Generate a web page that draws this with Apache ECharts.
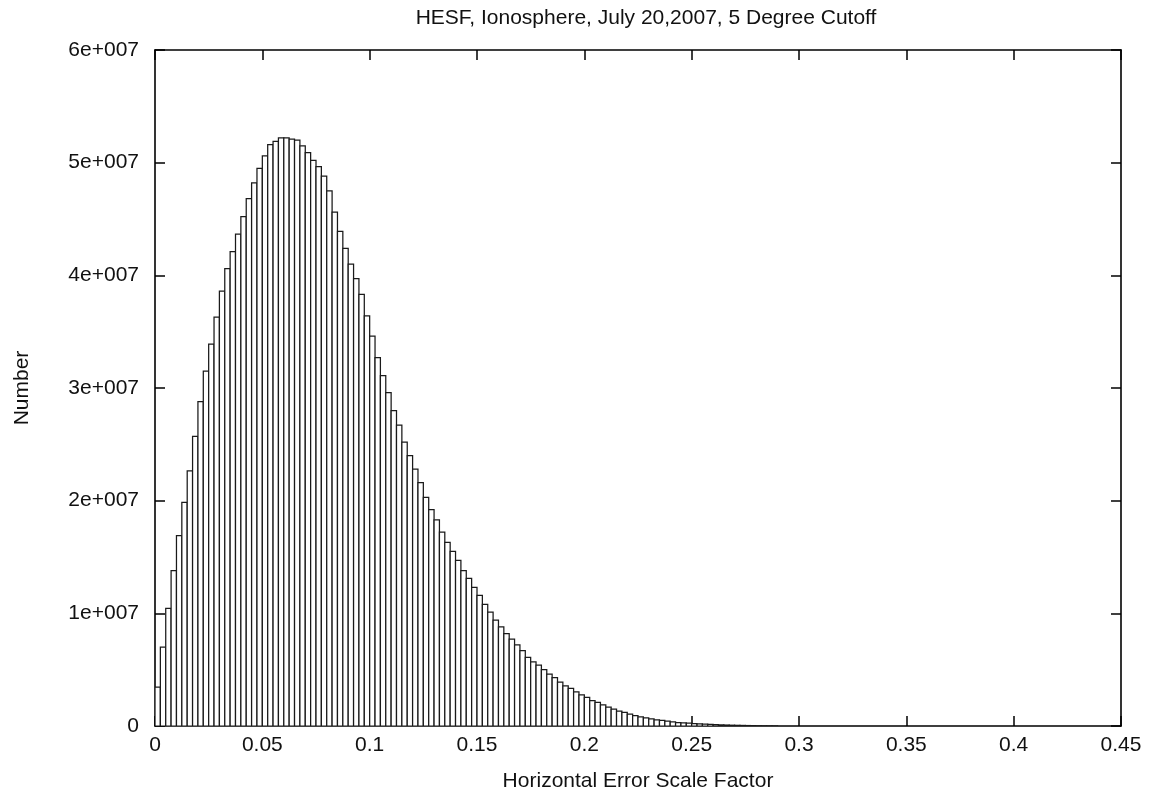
<!DOCTYPE html>
<html>
<head>
<meta charset="utf-8">
<script src="https://cdn.jsdelivr.net/npm/echarts@6/dist/echarts.min.js"></script>
<style>
html,body{margin:0;padding:0;background:#fff;}
#chart{width:1154px;height:798px;}
</style>
</head>
<body>
<div id="chart"></div>
<script>
// ---- data ----
var titleText = 'HESF, Ionosphere, July 20,2007, 5 Degree Cutoff';
var xName = 'Horizontal Error Scale Factor';
var yName = 'Number';
var binStart = 0;
var binWidth = 0.0025;
var xTicks = [0, 0.05, 0.1, 0.15, 0.2, 0.25, 0.3, 0.35, 0.4, 0.45];
var yTicks = [0, 1e7, 2e7, 3e7, 4e7, 5e7, 6e7];
var yTickLabels = ['0', '1e+007', '2e+007', '3e+007', '4e+007', '5e+007', '6e+007'];
var counts = [
  3.45e6, 7.0e6, 10.45e6, 13.8e6, 16.9e6, 19.85e6, 22.65e6, 25.7e6, 28.8e6, 31.5e6,
  33.9e6, 36.3e6, 38.6e6, 40.6e6, 42.1e6, 43.65e6, 45.2e6, 46.8e6, 48.2e6, 49.5e6,
  50.6e6, 51.6e6, 51.9e6, 52.2e6, 52.2e6, 52.1e6, 52.0e6, 51.5e6, 50.9e6, 50.2e6,
  49.65e6, 48.8e6, 47.5e6, 45.6e6, 43.9e6, 42.4e6, 41.0e6, 39.7e6, 38.3e6, 36.4e6,
  34.6e6, 32.7e6, 31.1e6, 29.6e6, 28.0e6, 26.7e6, 25.2e6, 24.0e6, 22.8e6, 21.6e6,
  20.3e6, 19.2e6, 18.3e6, 17.2e6, 16.3e6, 15.5e6, 14.7e6, 13.8e6, 13.1e6, 12.3e6,
  11.6e6, 10.8e6, 10.1e6, 9.4e6, 8.8e6, 8.2e6, 7.7e6, 7.2e6, 6.7e6, 6.1e6,
  5.7e6, 5.4e6, 5.0e6, 4.6e6, 4.3e6, 3.9e6, 3.56e6, 3.33e6, 3.03e6, 2.76e6,
  2.53e6, 2.26e6, 2.09e6, 1.87e6, 1.67e6, 1.49e6, 1.31e6, 1.2e6, 1.05e6, 0.93e6,
  0.81e6, 0.72e6, 0.63e6, 0.54e6, 0.49e6, 0.43e6, 0.36e6, 0.31e6, 0.28e6, 0.25e6,
  0.22e6, 0.19e6, 0.16e6, 0.14e6, 0.12e6, 0.10e6, 0.085e6, 0.07e6, 0.06e6, 0.05e6,
  0.04e6, 0.033e6, 0.027e6, 0.022e6, 0.018e6, 0.014e6
];

// ---- build histogram rows ----
var rows = counts.map(function (c, i) {
  var x0 = binStart + i * binWidth;
  return [x0, x0 + binWidth, c];
});

var FONT = '"Liberation Sans", Arial, Helvetica, sans-serif';
var TXT = '#111';
var FS = 21;

function yFmt(v) {
  var idx = yTicks.indexOf(v);
  return idx >= 0 ? yTickLabels[idx] : '';
}

var chart = echarts.init(document.getElementById('chart'), null, {renderer: 'canvas'});
var axisCommon = {
  min: xTicks[0], max: xTicks[xTicks.length - 1], interval: xTicks[1] - xTicks[0]
};
var option = {
  animation: false,
  backgroundColor: '#fff',
  title: {
    text: titleText, left: 641, top: 3, textAlign: 'center',
    textStyle: {fontFamily: FONT, fontSize: FS, fontWeight: 'normal', color: TXT}
  },
  grid: {left: 155, right: 33, top: 50, bottom: 72, containLabel: false},
  xAxis: [{
    type: 'value', position: 'bottom',
    min: axisCommon.min, max: axisCommon.max, interval: axisCommon.interval,
    name: xName, nameLocation: 'middle', nameGap: 45,
    nameTextStyle: {fontFamily: FONT, fontSize: FS, color: TXT},
    axisLine: {show: true, onZero: false, lineStyle: {color: '#000', width: 1.6}},
    axisTick: {show: true, inside: true, length: 10, lineStyle: {color: '#000', width: 1.5}},
    axisLabel: {fontFamily: FONT, fontSize: FS, color: TXT, margin: 9,
      formatter: function (v) { return String(+v.toFixed(4)); }},
    splitLine: {show: false}
  }, {
    type: 'value', position: 'top',
    min: axisCommon.min, max: axisCommon.max, interval: axisCommon.interval,
    axisLine: {show: true, onZero: false, lineStyle: {color: '#000', width: 1.6}},
    axisTick: {show: true, inside: true, length: 10, lineStyle: {color: '#000', width: 1.5}},
    axisLabel: {show: false},
    splitLine: {show: false}
  }],
  yAxis: [{
    type: 'value', position: 'left',
    min: yTicks[0], max: yTicks[yTicks.length - 1], interval: yTicks[1] - yTicks[0],
    name: yName, nameLocation: 'middle', nameGap: 122, nameRotate: 90,
    nameTextStyle: {fontFamily: FONT, fontSize: FS, color: TXT},
    axisLine: {show: true, onZero: false, lineStyle: {color: '#000', width: 1.6}},
    axisTick: {show: true, inside: true, length: 10, lineStyle: {color: '#000', width: 1.5}},
    axisLabel: {fontFamily: FONT, fontSize: FS, color: TXT, margin: 16, formatter: yFmt},
    splitLine: {show: false}
  }, {
    type: 'value', position: 'right',
    min: yTicks[0], max: yTicks[yTicks.length - 1], interval: yTicks[1] - yTicks[0],
    axisLine: {show: true, onZero: false, lineStyle: {color: '#000', width: 1.6}},
    axisTick: {show: true, inside: true, length: 10, lineStyle: {color: '#000', width: 1.5}},
    axisLabel: {show: false},
    splitLine: {show: false}
  }],
  series: [{
    type: 'custom',
    xAxisIndex: 0, yAxisIndex: 0,
    data: rows,
    encode: {x: [0, 1], y: 2},
    clip: true,
    renderItem: function (params, api) {
      var x0 = api.value(0), x1 = api.value(1), v = api.value(2);
      var pTop = api.coord([x0, v]);
      var pBot = api.coord([x1, 0]);
      return {
        type: 'rect',
        shape: {x: pTop[0], y: pTop[1], width: pBot[0] - pTop[0], height: pBot[1] - pTop[1]},
        style: {fill: '#fff', stroke: '#1a1a1a', lineWidth: 1.25}
      };
    }
  }]
};
chart.setOption(option);
</script>
</body>
</html>
